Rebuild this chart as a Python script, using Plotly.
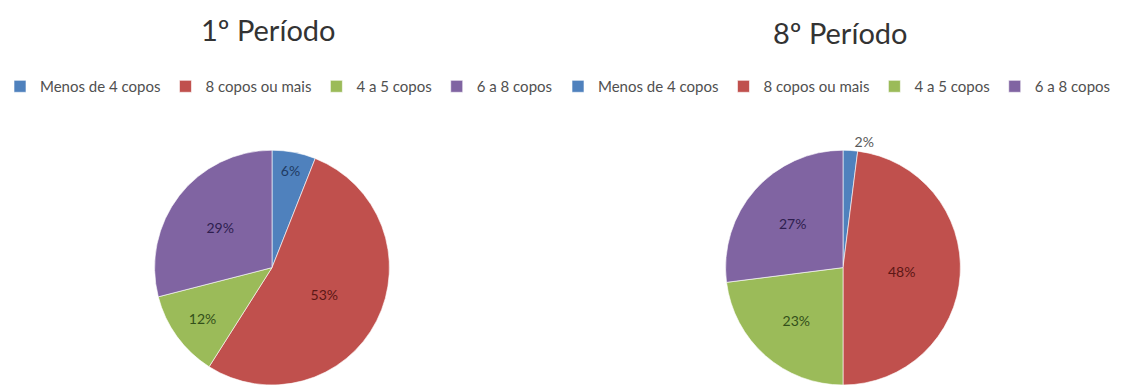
import plotly.graph_objects as go

labels = ["Menos de 4 copos", "8 copos ou mais", "4 a 5 copos", "6 a 8 copos"]
values_1 = [6, 53, 12, 29]
values_8 = [2, 48, 23, 27]
titles = ["1º Período", "8º Período"]

colors = ["#4F81BD", "#C0504D", "#9BBB59", "#8064A2"]
text_colors = ["#1F3B63", "#5C1715", "#33501A", "#2E1E4F"]

W, H = 1128, 390

def dom(cx, cy, r):
    return dict(x=[(cx - r) / W, (cx + r) / W], y=[(H - cy - r) / H, (H - cy + r) / H])

# the second pie gets visually identical labels (zero-width space) so that
# each legend lists its own entries
labels_8 = [l + "\u200b" for l in labels]

fig = go.Figure()
fig.add_trace(go.Pie(
    labels=labels, values=values_1, sort=False, direction="clockwise", rotation=0,
    marker=dict(colors=colors, line=dict(color="rgba(255,255,255,0.6)", width=1)),
    texttemplate="%{value}%", textposition="inside",
    insidetextorientation="horizontal",
    textfont=dict(family="Lato", size=14, color=text_colors),
    domain=dom(272, 269, 118), legend="legend", hoverinfo="label+percent",
))
fig.add_trace(go.Pie(
    labels=labels_8, values=values_8, sort=False, direction="clockwise", rotation=0,
    marker=dict(colors=colors, line=dict(color="rgba(255,255,255,0.6)", width=1)),
    texttemplate="%{value}%", textposition=["outside", "inside", "inside", "inside"],
    insidetextorientation="horizontal",
    textfont=dict(family="Lato", size=14, color=["#595959"] + text_colors[1:]),
    domain=dom(843, 269, 118), legend="legend2", hoverinfo="label+percent",
))

legend_common = dict(orientation="h", yanchor="middle", xanchor="left",
                     font=dict(family="Lato", size=15, color="#505050"),
                     bgcolor="rgba(0,0,0,0)", itemwidth=30, traceorder="normal")

fig.update_layout(
    width=W, height=H, margin=dict(l=0, r=0, t=0, b=0),
    paper_bgcolor="white", plot_bgcolor="white",
    showlegend=True,
    legend=dict(x=0.0, y=(H - 87) / H, **legend_common),
    legend2=dict(x=558 / W, y=(H - 87) / H, **legend_common),
    annotations=[
        dict(text=titles[0], x=268 / W, y=(H - 30) / H, xref="paper", yref="paper",
             showarrow=False, font=dict(family="Lato", size=29, color="#333333"),
             xanchor="center", yanchor="middle"),
        dict(text=titles[1], x=840 / W, y=(H - 33) / H, xref="paper", yref="paper",
             showarrow=False, font=dict(family="Lato", size=29, color="#333333"),
             xanchor="center", yanchor="middle"),
    ],
)

fig.write_html("out.html")
